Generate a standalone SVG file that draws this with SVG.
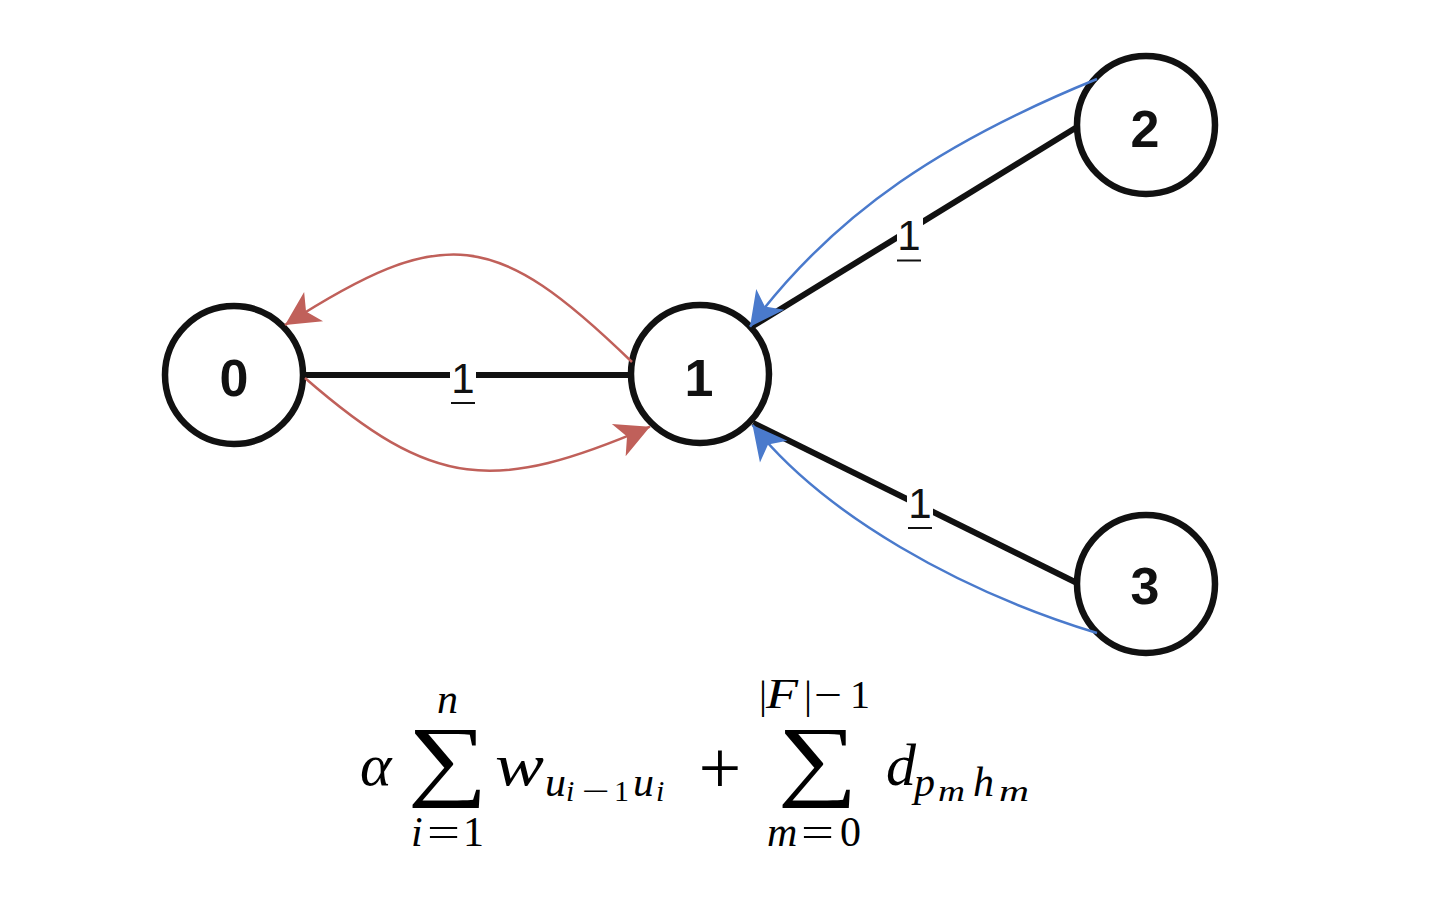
<svg xmlns="http://www.w3.org/2000/svg" width="1429" height="909" viewBox="0 0 1429 909">
<defs>
<style>
.node circle{fill:#fff;stroke:#111;stroke-width:6.5}
.nlabel{font-family:"Liberation Sans",Arial,sans-serif;font-weight:bold;font-size:52px;fill:#111;text-anchor:middle}
.edge{stroke:#111;stroke-width:6;fill:none}
.elabel{font-family:"Liberation Sans",Arial,sans-serif;font-size:42px;fill:#111;text-anchor:middle}
.uline{stroke:#111;stroke-width:2}
.lbg{fill:#fff}
.red{stroke:#c0605a;stroke-width:2.5;fill:none;marker-end:url(#ar)}
.blue{stroke:#4a7acc;stroke-width:2.5;fill:none;marker-end:url(#ab)}
.m{font-family:"Liberation Serif","Times New Roman",serif;fill:#000}
.it{font-style:italic}
.big{font-size:60px}
.sc{font-size:42px}
.ssc{font-size:30px}
</style>
<marker id="ar" markerUnits="userSpaceOnUse" viewBox="-36 -19 38 38" refX="0" refY="0" markerWidth="38" markerHeight="38" orient="auto">
<path d="M0,0 L-34,-17.5 L-25,0 L-34,17.5 Z" fill="#c0605a"/>
</marker>
<marker id="ab" markerUnits="userSpaceOnUse" viewBox="-36 -19 38 38" refX="0" refY="0" markerWidth="38" markerHeight="38" orient="auto">
<path d="M0,0 L-34,-17.5 L-25,0 L-34,17.5 Z" fill="#4a7acc"/>
</marker>
</defs>
<rect width="1429" height="909" fill="#fff"/>
<g id="nodes">
<g id="node0" class="node"><circle cx="234" cy="375" r="69"/><text class="nlabel" x="234" y="396">0</text></g>
<g id="node1" class="node"><circle cx="700" cy="374" r="69"/><text class="nlabel" x="699" y="396">1</text></g>
<g id="node2" class="node"><circle cx="1146" cy="125" r="69"/><text class="nlabel" x="1145" y="147">2</text></g>
<g id="node3" class="node"><circle cx="1146" cy="584" r="69"/><text class="nlabel" x="1145" y="604">3</text></g>
</g>
<g id="connectors">
<line class="edge" x1="303" y1="375" x2="631" y2="375"/>
<line class="edge" x1="1077" y1="127" x2="753" y2="326"/>
<line class="edge" x1="1077" y1="583" x2="753" y2="423"/>
<rect class="lbg" x="450" y="357" width="26" height="50"/>
<rect class="lbg" x="897" y="214" width="26" height="50"/>
<rect class="lbg" x="907" y="482" width="26" height="50"/>
<text class="elabel" x="463" y="393">1</text>
<line class="uline" x1="451" y1="403" x2="475" y2="403"/>
<text class="elabel" x="909" y="250">1</text>
<line class="uline" x1="897" y1="260.5" x2="921" y2="260.5"/>
<text class="elabel" x="920" y="518">1</text>
<line class="uline" x1="908" y1="528" x2="932" y2="528"/>
<path class="red" d="M632,362 C495,229 444.6,222.4 285,325"/>
<path class="red" d="M305,378 C433.2,489.7 493.8,493.7 650,426.7"/>
<path class="blue" d="M1097,79 C948,139.7 836.3,210.4 750,326.7"/>
<path class="blue" d="M1097,633 C959.8,591.1 823.9,514.8 752.5,425"/>
</g>
<g id="formula" class="m">
<text class="it big" x="360" y="785">α</text>
<text transform="translate(447.5,789) scale(1.25,1)" x="0" y="0" font-size="90" text-anchor="middle">∑</text>
<text class="it sc" x="447.5" y="713" text-anchor="middle">n</text>
<text class="sc" y="846"><tspan class="it" x="411">i</tspan><tspan x="427" textLength="33" lengthAdjust="spacingAndGlyphs">=</tspan><tspan x="463">1</tspan></text>
<text class="it big" x="495" y="785" textLength="49" lengthAdjust="spacingAndGlyphs">w</text>
<text class="it sc" x="545" y="796">u</text>
<text class="ssc" y="801"><tspan class="it" x="566">i</tspan><tspan x="582" textLength="28" lengthAdjust="spacingAndGlyphs">−</tspan><tspan x="614">1</tspan></text>
<text class="it sc" x="633" y="796">u</text>
<text class="it ssc" x="656" y="801">i</text>
<text x="720" y="793" font-size="76" text-anchor="middle">+</text>
<text transform="translate(817.5,789) scale(1.25,1)" x="0" y="0" font-size="90" text-anchor="middle">∑</text>
<text y="708" font-size="40"><tspan x="759">|</tspan><tspan class="it" x="766" font-size="42" textLength="32" lengthAdjust="spacingAndGlyphs">F</tspan><tspan x="804">|</tspan><tspan x="814" textLength="28" lengthAdjust="spacingAndGlyphs">−</tspan><tspan x="850">1</tspan></text>
<text class="sc" y="846"><tspan class="it" x="767">m</tspan><tspan x="801" textLength="33" lengthAdjust="spacingAndGlyphs">=</tspan><tspan x="840">0</tspan></text>
<text class="it big" x="886" y="785">d</text>
<text class="it sc" x="914" y="796">p</text>
<text class="it ssc" x="938" y="801" textLength="27" lengthAdjust="spacingAndGlyphs">m</text>
<text class="it sc" x="973" y="796">h</text>
<text class="it ssc" x="999" y="801" textLength="30" lengthAdjust="spacingAndGlyphs">m</text>
</g>
</svg>
